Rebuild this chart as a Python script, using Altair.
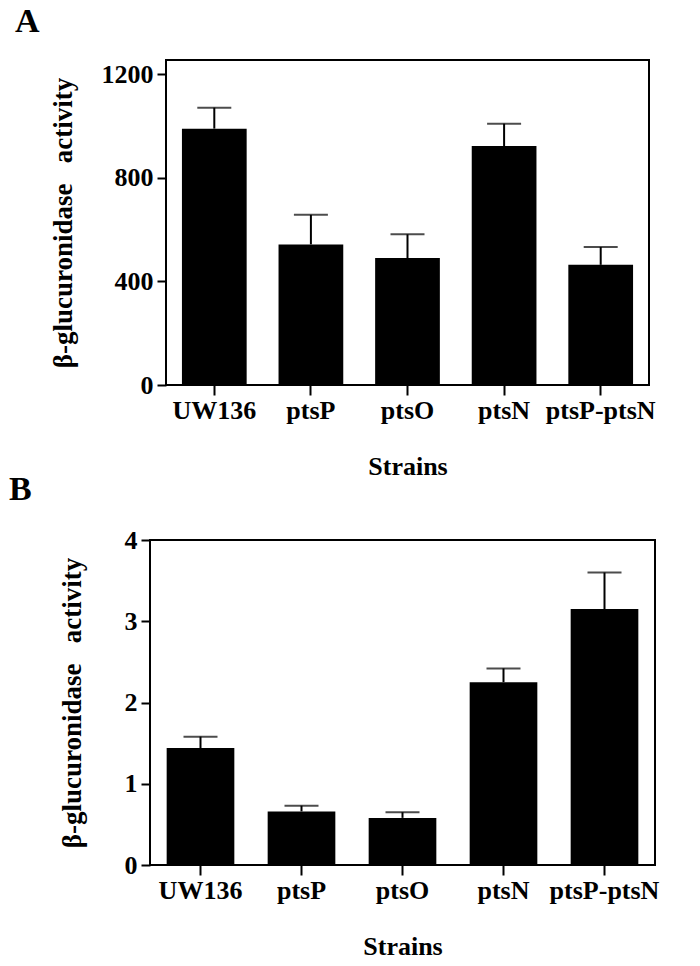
import altair as alt
import pandas as pd

strains = ["UW136", "ptsP", "ptsO", "ptsN", "ptsP-ptsN"]

a_mean = [990, 543, 490, 923, 464]
a_err = [81, 114, 92, 86, 69]
a_ticks = [0, 400, 800, 1200]

b_mean = [1.44, 0.66, 0.58, 2.25, 3.15]
b_err = [0.14, 0.07, 0.07, 0.17, 0.45]
b_ticks = [0, 1, 2, 3, 4]

FONT = "Liberation Serif"
YTITLE = "\u03b2-glucuronidase\u00a0\u00a0 activity"


def panel(letter, means, errs, ticks, ymax, width, letter_x, letter_y, ytitle_pad):
    df = pd.DataFrame({
        "strain": strains,
        "mean": means,
        "upper": [m + e for m, e in zip(means, errs)],
    })
    x = alt.X(
        "strain:N",
        sort=strains,
        scale=alt.Scale(paddingInner=0.33, paddingOuter=0.165),
        axis=alt.Axis(
            title="Strains", labelAngle=0, tickSize=10, tickWidth=2, tickColor="black",
            labelFont=FONT, labelFontSize=26, labelFontWeight="bold", labelColor="black",
            labelPadding=2, domain=False,
            titleFont=FONT, titleFontSize=26, titleFontWeight="bold", titleColor="black",
            titlePadding=30,
        ),
    )
    y = alt.Y(
        "mean:Q",
        scale=alt.Scale(domain=[0, ymax], nice=False),
        axis=alt.Axis(
            title=YTITLE, values=ticks, format="d", tickSize=9, tickWidth=2, tickColor="black",
            labelFont=FONT, labelFontSize=26, labelFontWeight="bold", labelColor="black",
            labelPadding=4, domain=False, grid=False,
            titleFont=FONT, titleFontSize=27, titleFontWeight="bold", titleColor="black",
            titlePadding=ytitle_pad,
        ),
    )
    base = alt.Chart(df)
    bars = base.mark_bar(color="black").encode(x=x, y=y)
    rules = base.mark_rule(color="black", strokeWidth=2).encode(
        x=alt.X("strain:N", sort=strains), y="mean:Q", y2="upper:Q"
    )
    caps = base.mark_tick(color="black", thickness=2, size=34, orient="horizontal").encode(
        x=alt.X("strain:N", sort=strains), y="upper:Q"
    )
    label = alt.Chart(pd.DataFrame({"t": [letter]})).mark_text(
        align="left", baseline="alphabetic", font=FONT, fontSize=34,
        fontWeight="bold", color="black",
    ).encode(text="t:N", x=alt.value(letter_x), y=alt.value(letter_y))
    return alt.layer(bars, rules, caps, label).properties(width=width, height=325)


pA = panel("A", a_mean, a_err, a_ticks, 1255, 483, -151, -28, 24)
pB = panel("B", b_mean, b_err, b_ticks, 4, 505, -141, -40, 38)

spacer = alt.Chart(pd.DataFrame({"s": [0]})).mark_point(opacity=0).properties(
    width=16, height=325, view=alt.ViewBackground(stroke=None)
)

rowA = alt.hconcat(spacer, pA, spacing=0, bounds="flush")
chart = alt.vconcat(rowA, pB, spacing=480, bounds="flush").properties(
    padding={"left": 0, "top": -4, "right": 5, "bottom": 0}
).configure(background="white").configure_view(stroke="black", strokeWidth=2)

chart.save("out.html", embed_options={"renderer": "svg", "actions": False})
